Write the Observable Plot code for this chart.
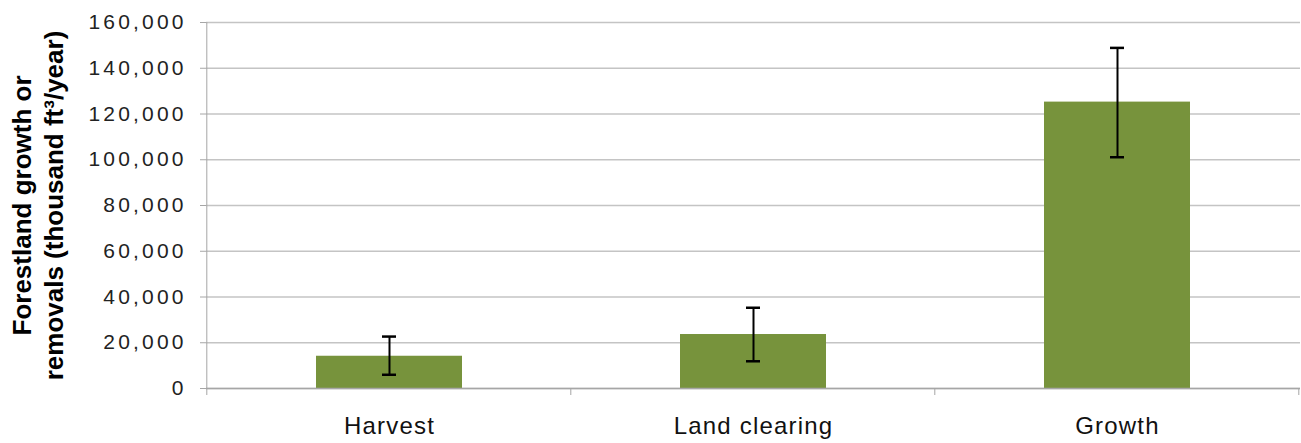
<!DOCTYPE html>
<html>
<head>
<meta charset="utf-8">
<script src="https://cdn.jsdelivr.net/npm/d3@7"></script>
<script src="https://cdn.jsdelivr.net/npm/@observablehq/plot@0.6"></script>
<style>
  body { margin: 0; background: #fff; }
  #chart svg { display: block; }
  g[aria-label="y-axis tick label"] text { letter-spacing: 3.2px; }
  g[aria-label="x-axis tick label"] text { letter-spacing: 1.2px; }
</style>
</head>
<body>
<div id="chart"></div>
<script>
// ---- data ----
const categories = ["Harvest", "Land clearing", "Growth"];
const values = [14100, 23600, 125200];
const errLow = [6000, 11900, 101100];
const errHigh = [22700, 35300, 148900];
const yTicks = [0, 20000, 40000, 60000, 80000, 100000, 120000, 140000, 160000];
const titleLines = ["Forestland growth or", "removals (thousand ft³/year)"];

const data = categories.map((c, i) => ({category: c, value: values[i], low: errLow[i], high: errHigh[i]}));

const W = 1301, H = 443;
const gridColor = "#c4c4c4";
const axisColor = "#a6a6a6";

// category separator ticks + left axis line, positioned through the x/y scales
const separators = (index, scales, vals, dims) => {
  const x = scales.x, y = scales.y;
  const xs = categories.map(c => x(c));
  const step = xs.length > 1 ? xs[1] - xs[0] : dims.width - dims.marginLeft - dims.marginRight;
  const bounds = xs.map(v => v - 0.3 * step);
  bounds.push(xs[xs.length - 1] + 0.7 * step);
  const y0 = y(0);
  const g = d3.create("svg:g");
  g.selectAll("line.sep").data(bounds).join("line")
    .attr("class", "sep")
    .attr("x1", d => d).attr("x2", d => d)
    .attr("y1", y0).attr("y2", y0 + 7)
    .attr("stroke", axisColor);
  g.append("line")
    .attr("x1", bounds[0]).attr("x2", bounds[0])
    .attr("y1", y(yTicks[yTicks.length - 1])).attr("y2", y0)
    .attr("stroke", axisColor);
  return g.node();
};

const chart = Plot.plot({
  width: W,
  height: H,
  marginLeft: 206,
  marginRight: 1,
  marginTop: 22,
  marginBottom: 55,
  style: {fontFamily: "'Liberation Sans', Arial, sans-serif", background: "#fff", color: "#000"},
  x: {domain: categories, paddingInner: 0.6, paddingOuter: 0.3, label: null},
  y: {domain: [0, 160000], ticks: yTicks, label: null},
  marks: [
    Plot.gridY(yTicks, {stroke: gridColor, strokeOpacity: 1, strokeWidth: 1.3}),
    Plot.axisY(yTicks, {tickFormat: d3.format(","), tickSize: 6, tickPadding: 13.8, fontSize: 21, stroke: axisColor, fill: "#222"}),
    Plot.axisX({tickSize: 0, tickPadding: 28, fontSize: 24, fill: "#111"}),
    Plot.barY(data, {x: "category", y: "value", fill: "#77933C"}),
    Plot.ruleY([0], {stroke: axisColor, strokeWidth: 1.5}),
    separators,
    Plot.ruleX(data, {x: "category", y1: "low", y2: "high", stroke: "#000", strokeWidth: 2}),
    Plot.tickY(data, {x: "category", y: "low", stroke: "#000", strokeWidth: 2.5, insetLeft: 66, insetRight: 66}),
    Plot.tickY(data, {x: "category", y: "high", stroke: "#000", strokeWidth: 2.5, insetLeft: 66, insetRight: 66}),
    Plot.text([titleLines.join("\n")], {
      frameAnchor: "left", rotate: -90, dx: -170, textAnchor: "middle", lineAnchor: "middle",
      fontSize: 26, fontWeight: "bold", lineHeight: 1.25, fill: "#000"
    })
  ]
});

document.getElementById("chart").appendChild(chart);
</script>
</body>
</html>
